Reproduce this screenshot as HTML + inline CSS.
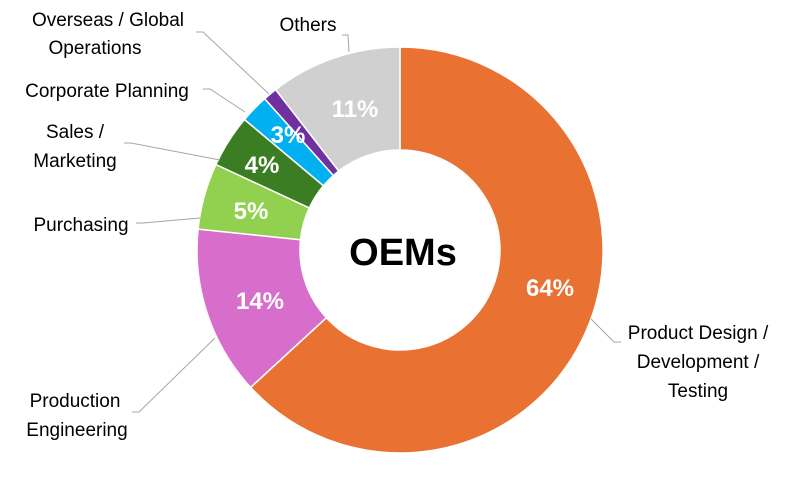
<!DOCTYPE html>
<html><head><meta charset="utf-8"><style>
html,body{margin:0;padding:0;background:#fff;}
svg{display:block;font-family:"Liberation Sans",Arial,sans-serif;}
.l{font-size:19px;fill:#000;}
.p{font-size:24px;font-weight:bold;fill:#fff;}
</style></head><body>
<svg width="800" height="500" viewBox="0 0 800 500">
<g stroke="#fff" stroke-width="1.5">
<path d="M400,47 A203,203 0 1 1 250.6,387.4 L326.4,317.7 A100,100 0 1 0 400,150 Z" fill="#E97132"/>
<path d="M250.6,387.4 A203,203 0 0 1 198.1,229.1 L300.5,239.7 A100,100 0 0 0 326.4,317.7 Z" fill="#D86ECC"/>
<path d="M198.1,229.1 A203,203 0 0 1 215.9,164.5 L309.3,207.9 A100,100 0 0 0 300.5,239.7 Z" fill="#92D050"/>
<path d="M215.9,164.5 A203,203 0 0 1 244.5,119.5 L323.4,185.7 A100,100 0 0 0 309.3,207.9 Z" fill="#3A7D22"/>
<path d="M244.5,119.5 A203,203 0 0 1 264.7,98.7 L333.4,175.5 A100,100 0 0 0 323.4,185.7 Z" fill="#00B0F0"/>
<path d="M264.7,98.7 A203,203 0 0 1 275.6,89.6 L338.7,171.0 A100,100 0 0 0 333.4,175.5 Z" fill="#7030A0"/>
<path d="M275.6,89.6 A203,203 0 0 1 400,47 L400,150 A100,100 0 0 0 338.7,171.0 Z" fill="#D0D0D0"/>
</g>
<g stroke="#a6a6a6" stroke-width="1" fill="none">
<polyline points="342,35 348,35 349,52"/>
<polyline points="196,32 203,32 269,94"/>
<polyline points="203,89 210,89 245,112"/>
<polyline points="124,143 131,143 220,160"/>
<polyline points="136,223 143,223 200,218"/>
<polyline points="132,412 139,412 215,338"/>
<polyline points="591,319 614,342 621,342"/>
</g>
<text class="p" x="550" y="296" text-anchor="middle">64%</text>
<text class="p" x="260" y="309" text-anchor="middle">14%</text>
<text class="p" x="251" y="219" text-anchor="middle">5%</text>
<text class="p" x="262" y="173" text-anchor="middle">4%</text>
<text class="p" x="288" y="143" text-anchor="middle">3%</text>
<text class="p" x="355" y="117" text-anchor="middle">11%</text>
<text x="403" y="265" text-anchor="middle" font-size="38" font-weight="bold" fill="#000">OEMs</text>
<text class="l" x="308" y="31" text-anchor="middle">Others</text>
<text class="l" x="108" y="26" text-anchor="middle">Overseas / Global</text>
<text class="l" x="95" y="54" text-anchor="middle">Operations</text>
<text class="l" x="107" y="97" text-anchor="middle">Corporate Planning</text>
<text class="l" x="75" y="138" text-anchor="middle">Sales /</text>
<text class="l" x="75" y="167" text-anchor="middle">Marketing</text>
<text class="l" x="81" y="231" text-anchor="middle">Purchasing</text>
<text class="l" x="75" y="407" text-anchor="middle">Production</text>
<text class="l" x="77" y="436" text-anchor="middle">Engineering</text>
<text class="l" x="698" y="339" text-anchor="middle">Product Design /</text>
<text class="l" x="698" y="368" text-anchor="middle">Development /</text>
<text class="l" x="698" y="397" text-anchor="middle">Testing</text>
</svg>
</body></html>
